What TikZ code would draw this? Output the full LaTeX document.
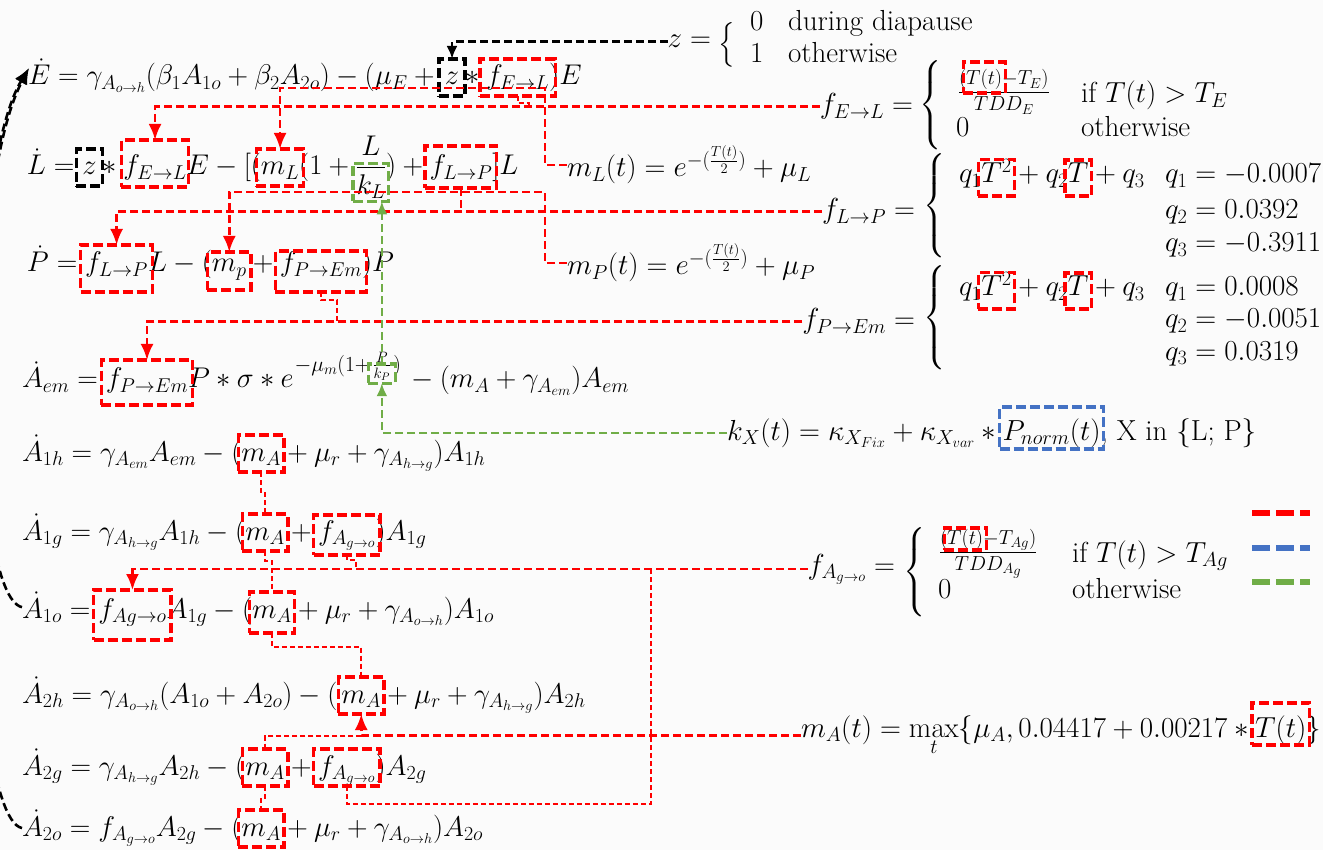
\RequirePackage{fix-cm}
\documentclass[tikz,border=0pt]{standalone}
\usepackage{amsmath}
\usetikzlibrary{arrows.meta,calc,fit}

\definecolor{kred}{RGB}{255,0,0}
\definecolor{kblue}{RGB}{68,114,196}
\definecolor{kgreen}{RGB}{112,173,71}
\definecolor{paper}{RGB}{251,251,251}

\newcommand{\eqsize}{\fontsize{28.5}{33}\selectfont}
\newcommand{\defsize}{\fontsize{29}{34}\selectfont}
\newcommand{\expsize}{\fontsize{21.5}{25}\selectfont}
% invisible strut: depth #1, height #2 (pt)
\newcommand{\strt}[2]{\rule[-#1pt]{0pt}{\dimexpr #1pt + #2pt\relax}}
\newcommand{\bx}{\strt{11}{26}}
\newcommand{\lbr}[1]{$\left\{\vcenter{\hbox{\rule{0pt}{#1pt}}}\right.$}

\tikzset{
  every node/.style={font=\eqsize, inner sep=0pt, outer sep=0pt},
  seg/.style={anchor=base west},
  def/.style={font=\defsize},
  dseg/.style={anchor=base west, font=\defsize},
  dbox/.style={dash pattern=on 10pt off 4pt, line width=3.3pt, inner xsep=4.5pt, inner ysep=0pt},
  boxred/.style={dbox, draw=kred},
  boxblack/.style={dbox, draw=black},
  boxgreen/.style={dbox, draw=kgreen},
  boxblue/.style={dbox, draw=kblue},
  link/.style={dash pattern=on 8pt off 4pt, line width=2.6pt},
  conred/.style={link, draw=kred},
  conthin/.style={draw=kred, dash pattern=on 5pt off 3pt, line width=1.8pt},
  congreen/.style={link, draw=kgreen},
  conblack/.style={link, draw=black},
  arrowtip/.style={-{Latex[length=16pt,width=13pt]}},
  smalltip/.style={-{Latex[length=13pt,width=11pt]}},
  legline/.style={line width=6pt, dash pattern=on 18pt off 6pt},
}

\begin{document}
\begin{tikzpicture}[x=1pt,y=-1pt]
\useasboundingbox (0,0) rectangle (1323,850);
\clip (0,0) rectangle (1323,850);
\fill[paper] (0,0) rectangle (1323,850);

% ---------- model equations ----------
% E
\node[seg] (e1a) at (28,85) {$\dot E = \gamma_{A_{o\to h}}(\beta_1 A_{1o}+\beta_2 A_{2o}) - (\mu_E +{}$};
\node[seg] (e1z) at ($(e1a.base east)+(4,0)$) {$\bx z$};
\node[seg] (e1b) at (e1z.base east) {${}\ast{}$};
\node[seg] (e1f) at (e1b.base east) {$\bx f_{E\to L}$};
\node[seg] (e1c) at (e1f.base east) {$)E$};
% L
\node[seg] (l1a) at (27,175) {$\dot L ={}$};
\node[seg] (l1z) at (l1a.base east) {$\bx z$};
\node[seg] (l1b) at (l1z.base east) {${}\ast{}$};
\node[seg] (l1f) at (l1b.base east) {$\strt{12}{35}f_{E\to L}$};
\node[seg] (l1c) at (l1f.base east) {$E - [($};
\node[seg] (l1m) at (l1c.base east) {$\bx m_L$};
\node[seg] (l1d) at (l1m.base east) {$(1+{}$};
\node[seg] (l1k) at (l1d.base east) {$\dfrac{L}{k_L}$};
\node[seg] (l1e) at (l1k.base east) {$)+{}$};
\node[seg] (l1p) at (l1e.base east) {$\strt{13}{29}f_{L\to P}$};
\node[seg] (l1g) at (l1p.base east) {$]L$};
% P
\node[seg] (p1a) at (27,272) {$\dot P ={}$};
\node[seg] (p1f) at (p1a.base east) {$\strt{20}{27}f_{L\to P}$};
\node[seg] (p1b) at (p1f.base east) {$L-($};
\node[seg] (p1m) at (p1b.base east) {$\strt{18}{20}m_p$};
\node[seg] (p1c) at (p1m.base east) {${}+{}$};
\node[seg] (p1e) at (p1c.base east) {$\strt{20}{21}f_{P\to Em}$};
\node[seg] (p1d) at (p1e.base east) {$)P$};
% A_em
\node[seg] (a1a) at (22,388) {$\dot A_{em} ={}$};
\node[seg] (a1f) at (a1a.base east) {$\strt{17}{28}f_{P\to Em}$};
\node[seg] (a1b) at (a1f.base east) {$P\ast\sigma\ast e$};
\node[seg, font=\expsize] (a1x) at ($(a1b.base east)+(1,-17)$) {$-\mu_m(1+$};
\node[seg, font=\expsize] (a1k) at ($(a1x.base east)+(2,0)$) {$\frac{P}{k_P}$};
\node[seg, font=\expsize] (a1y) at ($(a1k.base east)+(2,0)$) {$)$};
\node[seg] (a1c) at ($(a1y.base east |- a1b.base)+(4,0)$) {${}-(m_A+\gamma_{A_{em}})A_{em}$};
% A_1h
\node[seg] (b1a) at (22,461) {$\dot A_{1h} = \gamma_{A_{em}}A_{em} - ($};
\node[seg] (b1m) at (b1a.base east) {$\bx m_A$};
\node[seg] (b1b) at (b1m.base east) {${}+\mu_r+\gamma_{A_{h\to g}})A_{1h}$};
% A_1g
\node[seg] (c1a) at (22,540) {$\dot A_{1g} = \gamma_{A_{h\to g}}A_{1h} - ($};
\node[seg] (c1m) at (c1a.base east) {$\bx m_A$};
\node[seg] (c1b) at (c1m.base east) {${}+{}$};
\node[seg] (c1f) at (c1b.base east) {$\strt{15}{25}f_{A_{g\to o}}$};
\node[seg] (c1c) at (c1f.base east) {$)A_{1g}$};
% A_1o
\node[seg] (d1a) at (22,618) {$\dot A_{1o} ={}$};
\node[seg] (d1f) at (d1a.base east) {$\strt{22}{28}f_{Ag\to o}$};
\node[seg] (d1b) at (d1f.base east) {$A_{1g} - ($};
\node[seg] (d1m) at (d1b.base east) {$\strt{15}{26}m_A$};
\node[seg] (d1c) at (d1m.base east) {${}+\mu_r+\gamma_{A_{o\to h}})A_{1o}$};
% A_2h
\node[seg] (e2a) at (22,703) {$\dot A_{2h} = \gamma_{A_{o\to h}}(A_{1o}+A_{2o}) - ($};
\node[seg] (e2m) at ($(e2a.base east)+(4,0)$) {$\bx m_A$};
\node[seg] (e2b) at (e2m.base east) {${}+\mu_r+\gamma_{A_{h\to g}})A_{2h}$};
% A_2g
\node[seg] (g2a) at (22,775) {$\dot A_{2g} = \gamma_{A_{h\to g}}A_{2h} - ($};
\node[seg] (g2m) at (g2a.base east) {$\bx m_A$};
\node[seg] (g2b) at (g2m.base east) {${}+{}$};
\node[seg] (g2f) at (g2b.base east) {$\bx f_{A_{g\to o}}$};
\node[seg] (g2c) at (g2f.base east) {$)A_{2g}$};
% A_2o
\node[seg] (o2a) at (22,836) {$\dot A_{2o} = f_{A_{g\to o}}A_{2g} - ($};
\node[seg] (o2m) at (o2a.base east) {$\bx m_A$};
\node[seg] (o2b) at (o2m.base east) {${}+\mu_r+\gamma_{A_{o\to h}})A_{2o}$};

% boxes on the model equations
\node[boxblack, inner xsep=6pt, fit=(e1z)] (e1zb) {};
\node[boxred, inner xsep=6pt, fit=(e1f)] (e1fb) {};
\node[boxblack, inner xsep=6pt, fit=(l1z)] (l1zb) {};
\node[boxred, inner xsep=2pt, fit=(l1f)] (l1fb) {};
\node[boxred, fit=(l1m)] (l1mb) {};
\node[boxgreen, inner sep=2.5pt, fit={(l1k.south west) ($(l1k.base east)+(0,-9)$)}] (l1kb) {};
\node[boxred, fit=(l1p)] (l1pb) {};
\node[boxred, fit=(p1f)] (p1fb) {};
\node[boxred, fit=(p1m)] (p1mb) {};
\node[boxred, fit=(p1e)] (p1eb) {};
\node[boxred, fit=(a1f)] (a1fb) {};
\node[boxgreen, inner xsep=4pt, inner ysep=2.5pt, fit={(a1k.south west) (a1k.east)}] (a1kb) {};
\node[boxred, inner xsep=3pt, fit=(b1m)] (b1mb) {};
\node[boxred, inner xsep=3pt, fit=(c1m)] (c1mb) {};
\node[boxred, fit=(c1f)] (c1fb) {};
\node[boxred, fit=(d1f)] (d1fb) {};
\node[boxred, inner xsep=3pt, fit=(d1m)] (d1mb) {};
\node[boxred, inner xsep=3pt, fit=(e2m)] (e2mb) {};
\node[boxred, inner xsep=3pt, fit=(g2m)] (g2mb) {};
\node[boxred, fit=(g2f)] (g2fb) {};
\node[boxred, inner xsep=3pt, fit=(o2m)] (o2mb) {};

% ---------- definitions ----------
% z
\node[def, anchor=base east] (zl) at (711,48) {$z =$};
\node[def, anchor=west] (zbr) at (718,45) {\lbr{44}};
\node[dseg] (z0) at (750,31) {$0$};
\node[dseg] (z0t) at (788,31) {during diapause};
\node[dseg] (z1) at (750,63) {$1$};
\node[dseg] (z1t) at (788,63) {otherwise};

% f_{E->L}
\node[def, anchor=base east] (fELl) at (913,114) {$f_{E\to L} =$};
\node[def, anchor=west] (fELbr) at (919,105) {\lbr{80}};
\node[dseg] (fEn1) at (959,85) {$\scriptstyle($};
\node[dseg] (fEnT) at (fEn1.base east) {$\scriptstyle\strt{8}{23}T(t)$};
\node[dseg] (fEn2) at (fEnT.base east) {$\scriptstyle -T_E)$};
\draw[line width=1pt] ($(fEn1.base west)+(0,8)$) -- ($(fEn2.base east)+(0,8)$);
\coordinate (fEmid) at ($(fEn1.base west)!0.5!(fEn2.base east)$);
\node[def, anchor=base] (fEd) at ($(fEmid)+(0,26)$) {$\scriptstyle TDD_E$};
\node[boxred, inner xsep=3pt, fit=(fEnT)] (fEnTb) {};
\node[dseg] (fEif) at (1081,103) {if $T(t) > T_E$};
\node[dseg] (fE0) at (956,137) {$0$};
\node[dseg] (fEo) at (1081,137) {otherwise};

% m_L and m_P
\node[dseg] (mLd) at (567,177) {$m_L(t) = e^{-(\frac{T(t)}{2})} + \mu_L$};
\node[dseg] (mPd) at (567,275) {$m_P(t) = e^{-(\frac{T(t)}{2})} + \mu_P$};

% f_{L->P}
\node[def, anchor=base east] (fLPl) at (915,219) {$f_{L\to P} =$};
\node[def, anchor=west] (fLPbr) at (923,206) {\lbr{100}};
\node[dseg] (fLq1) at (959,183) {$q_1$};
\node[dseg] (fLT2) at (fLq1.base east) {$\strt{13}{23}T^2$};
\node[dseg] (fLp2) at (fLT2.base east) {${}+q_2$};
\node[dseg] (fLT) at (fLp2.base east) {$\strt{13}{23}T$};
\node[dseg] (fLp3) at (fLT.base east) {${}+q_3$};
\node[boxred, inner xsep=3pt, fit=(fLT2)] (fLT2b) {};
\node[boxred, inner xsep=3pt, fit=(fLT)] (fLTb) {};
\node[dseg] (fLc1) at (1165,183) {$q_1 = -0.0007$};
\node[dseg] (fLc2) at (1165,219) {$q_2 = 0.0392$};
\node[dseg] (fLc3) at (1165,252) {$q_3 = -0.3911$};

% f_{P->Em}
\node[def, anchor=base east] (fPEl) at (915,329) {$f_{P\to Em} =$};
\node[def, anchor=west] (fPEbr) at (923,318) {\lbr{100}};
\node[dseg] (fPq1) at (959,296) {$q_1$};
\node[dseg] (fPT2) at (fPq1.base east) {$\strt{13}{23}T^2$};
\node[dseg] (fPp2) at (fPT2.base east) {${}+q_2$};
\node[dseg] (fPT) at (fPp2.base east) {$\strt{13}{23}T$};
\node[dseg] (fPp3) at (fPT.base east) {${}+q_3$};
\node[boxred, inner xsep=3pt, fit=(fPT2)] (fPT2b) {};
\node[boxred, inner xsep=3pt, fit=(fPT)] (fPTb) {};
\node[dseg] (fPc1) at (1165,296) {$q_1 = 0.0008$};
\node[dseg] (fPc2) at (1165,328) {$q_2 = -0.0051$};
\node[dseg] (fPc3) at (1165,360) {$q_3 = 0.0319$};

% k_X
\node[dseg] (kX1) at (727,440) {$k_X(t) = \kappa_{X_{Fix}} + \kappa_{X_{var}} \ast{}$};
\node[dseg] (kXP) at (kX1.base east) {$\strt{9}{33}P_{norm}(t)$};
\node[dseg] (kX2) at (kXP.base east) {, X in \{L; P\}};
\node[boxblue, inner xsep=3pt, fit=(kXP)] (kXPb) {};

% f_{A_{g->o}}
\node[def, anchor=base east] (fAl) at (895,574) {$f_{A_{g\to o}} =$};
\node[def, anchor=west] (fAbr) at (903,572) {\lbr{85}};
\node[dseg] (fAn1) at (940,544) {$\scriptstyle($};
\node[dseg] (fAnT) at (fAn1.base east) {$\scriptstyle\strt{6}{16}T(t)$};
\node[dseg] (fAn2) at (fAnT.base east) {$\scriptstyle -T_{Ag})$};
\draw[line width=1pt] ($(fAn1.base west)+(0,8)$) -- ($(fAn2.base east)+(0,8)$);
\coordinate (fAmid) at ($(fAn1.base west)!0.5!(fAn2.base east)$);
\node[def, anchor=base] (fAd) at ($(fAmid)+(0,26)$) {$\scriptstyle TDD_{A_g}$};
\node[boxred, inner xsep=3pt, fit=(fAnT)] (fAnTb) {};
\node[dseg] (fAif) at (1072,562) {if $T(t) > T_{Ag}$};
\node[dseg] (fA0) at (938,598) {$0$};
\node[dseg] (fAo) at (1072,598) {otherwise};

% m_A
\node[dseg] (mA1) at (801,737) {$m_A(t) = \max\limits_t\{\mu_A, 0.04417 + 0.00217 \ast{}$};
\node[dseg] (mAT) at (mA1.base east) {$\strt{8}{34}T(t)$};
\node[dseg] (mA2) at (mAT.base east) {$\}$};
\node[boxred, inner xsep=3pt, fit=(mAT)] (mATb) {};

% legend strokes
\coordinate (lgRa) at (1252,513); \coordinate (lgRb) at (1310,513);
\coordinate (lgBa) at (1252,548); \coordinate (lgBb) at (1310,548);
\coordinate (lgGa) at (1252,582); \coordinate (lgGb) at (1310,582);
\draw[legline, kred] (lgRa) -- (lgRb);
\draw[legline, kblue] (lgBa) -- (lgBb);
\draw[legline, kgreen] (lgGa) -- (lgGb);

% ---------- connectors ----------
% z
\draw[conblack, smalltip] (zl.west) -| (e1zb.north);
% f_{E->L}
\draw[conred, arrowtip] (fELl.west) -| (l1fb.north);
\draw[conthin] (e1fb.south) -- ++(0,7) -- ++(11,0) coordinate (s1) -- (s1 |- fELl.west);
% m_L
\coordinate (mLlev) at (0,88);
\draw[conred, arrowtip] (mLd.west) -- ++(-22,0) |- (mLlev -| l1mb.north) -- (l1mb.north);
% f_{L->P}
\draw[conred, arrowtip] (fLPl.west) -| (p1fb.north);
\draw[conred] (l1pb.south) -- (l1pb.south |- fLPl.west);
% m_P
\coordinate (mPlev) at (0,192);
\draw[conred, arrowtip] (mPd.west) -- ++(-22,0) |- (mPlev -| p1mb.north) -- (p1mb.north);
% f_{P->Em}
\draw[conred, arrowtip] (fPEl.west) -| (a1fb.north);
\draw[conthin] (p1eb.south) -- ++(0,8) -- ++(16,0) coordinate (s2) -- (s2 |- fPEl.west);
% k_X
\draw[congreen, smalltip] (kX1.west) -| (a1kb.south);
\draw[congreen, smalltip] (a1kb.north) -- (a1kb.north |- l1kb.south);
% f_{A_{g->o}}
\draw[conred, arrowtip] (fAl.west) -| (d1fb.north);
\draw[conthin] (c1fb.south) -- ++(0,5) -- ++(9,0) coordinate (s3) -- (s3 |- fAl.west);
\coordinate (vAg) at (651,0);
\draw[conthin] (g2fb.south) -- ++(0,18) -| (vAg |- fAl.west);
% m_A
\draw[conred, arrowtip] (mA1.west) -| (e2mb.south);
\draw[conthin] (e2mb.south |- mA1.west) -| (g2mb.north);
\draw[conthin] (b1mb.south) -- ++(0,20) -| (c1mb.north);
\draw[conthin] (c1mb.south) -- ++(0,10) -| (d1mb.north);
\draw[conthin] (d1mb.south) -- ++(0,14) -| (e2mb.north);
\draw[conthin] (g2mb.south) -- ++(0,12) -| (o2mb.north);
% adult feedback to eggs
\coordinate (Etip) at ($(e1a.base west)+(1,-17)$);
\draw[conblack, arrowtip] (d1a.west) .. controls (-30,595) and (-35,190) .. (Etip);
\draw[conblack, arrowtip] (o2a.west) .. controls (-40,815) and (-45,190) .. (Etip);
\end{tikzpicture}
\end{document}
